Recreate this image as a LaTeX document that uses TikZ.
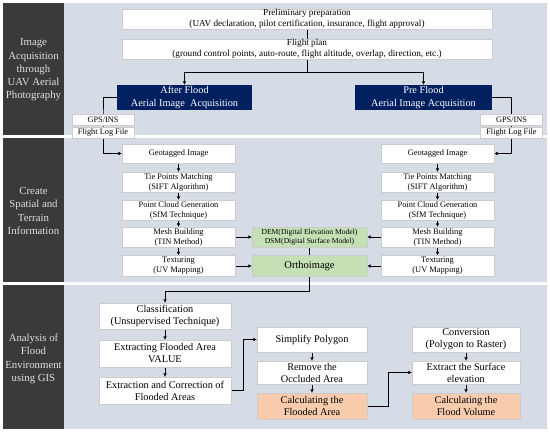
\documentclass[tikz,border=0pt]{standalone}
\usepackage{fontspec}
\setmainfont{Liberation Serif}
\usetikzlibrary{arrows.meta}
\definecolor{darkcol}{HTML}{3A3A3A}
\definecolor{panelcol}{HTML}{D6DCE5}
\definecolor{navyfill}{HTML}{002060}
\definecolor{greenfill}{HTML}{C5E0B4}
\definecolor{orangefill}{HTML}{F8CBAD}
\newcommand\prepfont{\fontsize{9.2}{10.5}\selectfont}
\newcommand\stepfont{\fontsize{8.4}{10}\selectfont}
\newcommand\gisfont{\fontsize{10.3}{12}\selectfont}
\newcommand\sidefont{\fontsize{10.8}{13.3}\selectfont}
\pgfdeclarelayer{panels}
\pgfdeclarelayer{lines}
\pgfsetlayers{panels,lines,main}

\begin{document}
\begin{tikzpicture}[x=1pt,y=-1pt,>={Latex[length=3.5pt,width=3.5pt]},line width=1.1pt,
  box/.style={draw=gray!40,line width=0.4pt,fill=white,inner sep=0pt,align=center},
  prepbox/.style={box,minimum width=370pt,minimum height=20pt,font=\prepfont},
  navybox/.style={fill=navyfill,text=white,inner sep=0pt,align=center,minimum height=25pt,font=\fontsize{10.3}{12.5}\selectfont},
  gpsbox/.style={box,minimum width=62pt,minimum height=11pt,font=\fontsize{8.3}{9}\selectfont},
  stepbox/.style={box,minimum width=113pt,minimum height=20pt,font=\stepfont},
  greenbox/.style={box,fill=greenfill,minimum width=115pt,minimum height=20pt},
  gisbox/.style={box,minimum width=132pt,minimum height=27pt,font=\gisfont},
  calcbox/.style={box,minimum width=110pt,minimum height=25pt,font=\gisfont},
  sidelabel/.style={text=white!88!black,align=center,font=\sidefont}]
\useasboundingbox (0,0) rectangle (550,434);

\begin{pgfonlayer}{panels}
\fill[darkcol] (3,3) rectangle (64,135);
\fill[panelcol] (64,3) rectangle (547,135);
\fill[darkcol] (3,138) rectangle (64,282);
\fill[panelcol] (64,138) rectangle (547,282);
\fill[darkcol] (3,285) rectangle (64,429);
\fill[panelcol] (64,285) rectangle (547,429);
\end{pgfonlayer}

\node[sidelabel] (lab1) at (33.5,70) {Image\\Acquisition\\through\\UAV Aerial\\Photography};
\node[sidelabel] (lab2) at (33.5,211) {Create\\Spatial and\\Terrain\\Information};
\node[sidelabel] (lab3) at (33.5,359) {Analysis of\\Flood\\Environment\\using GIS};

\node[prepbox] (prep) at (307,19) {Preliminary preparation\\(UAV declaration, pilot certification, insurance, flight approval)};
\node[prepbox] (plan) at (307,49) {Flight plan\\(ground control points, auto-route, flight altitude, overlap, direction, etc.)};
\node[navybox,minimum width=135pt] (after) at (184.5,97.5) {After Flood\\Aerial Image\ \ Acquisition};
\node[navybox,minimum width=137pt] (pre) at (423.5,97.5) {Pre Flood\\Aerial Image Acquisition};
\node[gpsbox] (gpsL) at (103,119.5) {GPS/INS};
\node[gpsbox] (logL) at (103,133) {Flight Log File};
\node[gpsbox] (gpsR) at (511.5,119.5) {GPS/INS};
\node[gpsbox] (logR) at (511.5,133) {Flight Log File};

\node[stepbox,minimum height=19pt] (geoL) at (178.5,153.5) {Geotagged Image};
\node[stepbox] (tieL) at (178.5,182) {Tie Points Matching\\(SIFT Algorithm)};
\node[stepbox] (cloudL) at (178.5,210) {Point Cloud Generation\\(SfM Technique)};
\node[stepbox] (meshL) at (178.5,237) {Mesh Building\\(TIN Method)};
\node[stepbox,minimum height=21pt] (texL) at (178.5,266) {Texturing\\(UV Mapping)};
\node[stepbox,minimum height=19pt] (geoR) at (437.5,153.5) {Geotagged Image};
\node[stepbox] (tieR) at (437.5,182) {Tie Points Matching\\(SIFT Algorithm)};
\node[stepbox] (cloudR) at (437.5,210) {Point Cloud Generation\\(SfM Technique)};
\node[stepbox] (meshR) at (437.5,237) {Mesh Building\\(TIN Method)};
\node[stepbox,minimum height=21pt] (texR) at (437.5,266) {Texturing\\(UV Mapping)};
\node[greenbox,font=\fontsize{7.6}{9}\selectfont] (dem) at (309.5,237) {DEM(Digital Elevation Model)\\DSM(Digital Surface Model)};
\node[greenbox,minimum height=21pt,font=\fontsize{10.5}{12}\selectfont] (ortho) at (309.5,266) {Orthoimage};

\node[gisbox,minimum height=26pt] (class) at (165,316) {Classification\\(Unsupervised Technique)};
\node[gisbox] (extr) at (165,353.5) {Extracting Flooded Area\\VALUE};
\node[gisbox] (corr) at (165,390.5) {Extraction and Correction of\\Flooded Areas};
\node[calcbox] (simp) at (312,339.5) {Simplify Polygon};
\node[calcbox,minimum height=23pt] (occl) at (312,372.5) {Remove the\\Occluded Area};
\node[calcbox,fill=orangefill,minimum height=26pt] (farea) at (312,406) {Calculating the\\Flooded Area};
\node[calcbox,minimum width=108pt] (conv) at (466,339.5) {Conversion\\(Polygon to Raster)};
\node[calcbox,minimum width=108pt,minimum height=23pt] (surf) at (466,372.5) {Extract the Surface\\elevation};
\node[calcbox,minimum width=108pt,fill=orangefill,minimum height=26pt] (fvol) at (466,406) {Calculating the\\Flood Volume};

\begin{pgfonlayer}{lines}
\coordinate (split) at (307,72);
\draw (prep) -- (plan);
\draw (plan) -- (split);
\draw[->] (split) -| (after);
\draw[->] (split) -| (pre);
\draw[->] (after.west) -| (gpsL.center) |- (geoL.west);
\draw[->] (pre.east) -| (gpsR.center) |- (geoR.east);
\foreach \a/\b in {geoL/tieL,tieL/cloudL,cloudL/meshL,meshL/texL,geoR/tieR,tieR/cloudR,cloudR/meshR,meshR/texR}
  \draw[->] (\a) -- (\b);
\draw[->] (meshL) -- (dem);
\draw[->] (meshR) -- (dem);
\draw[->] (texL) -- (ortho);
\draw[->] (texR) -- (ortho);
\draw (dem) -- (ortho);
\draw[->] (ortho.south) -- ++(0,14) -| (class);
\foreach \a/\b in {class/extr,extr/corr,simp/occl,occl/farea,conv/surf,surf/fvol}
  \draw[->] (\a) -- (\b);
\draw[->] (corr.east) -- ++(12,0) |- (simp.west);
\draw[->] (farea.east) -- ++(21,0) |- (surf.west);
\end{pgfonlayer}
\end{tikzpicture}
\end{document}
